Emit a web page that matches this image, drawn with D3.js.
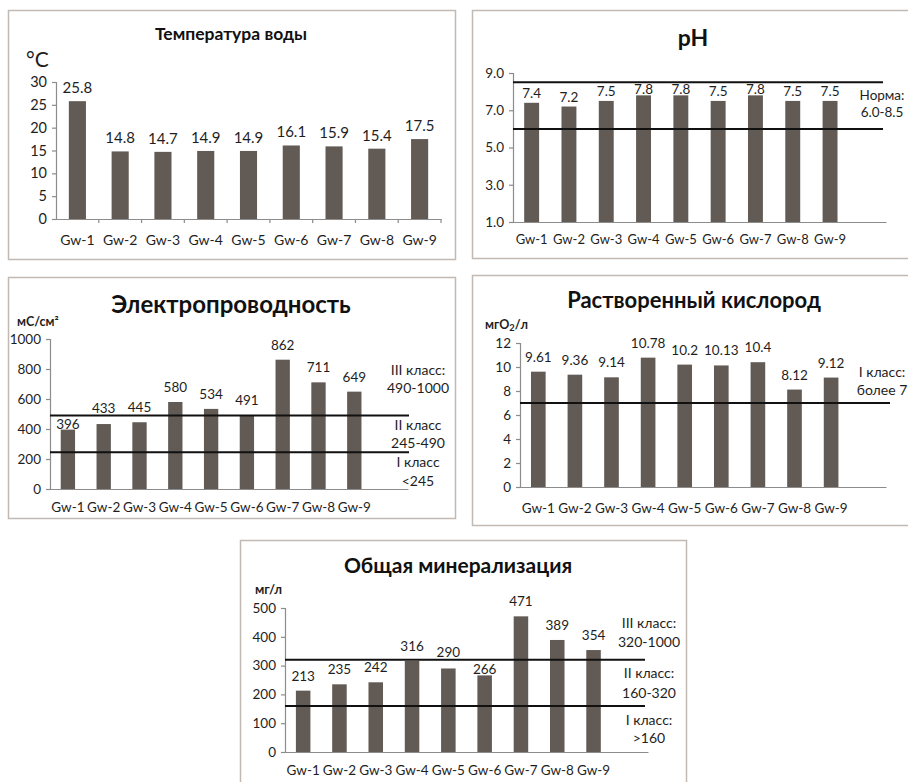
<!DOCTYPE html>
<html>
<head>
<meta charset="utf-8">
<script src="https://cdn.jsdelivr.net/npm/d3@7"></script>
<style>
  body { margin: 0; background: #fff; }
  svg { display: block; }
  text { font-family: Lato, "Open Sans", sans-serif; fill: #1e1e1e; }
</style>
</head>
<body>
<svg id="chart" width="908" height="782"></svg>
<script>
// Monitoring wells
const categories = ["Gw-1", "Gw-2", "Gw-3", "Gw-4", "Gw-5", "Gw-6", "Gw-7", "Gw-8", "Gw-9"];

// Measured values per well
const temperature  = [25.8, 14.8, 14.7, 14.9, 14.9, 16.1, 15.9, 15.4, 17.5];
const ph           = [7.4, 7.2, 7.5, 7.8, 7.8, 7.5, 7.8, 7.5, 7.5];
const conductivity = [396, 433, 445, 580, 534, 491, 862, 711, 649];
const oxygen       = [9.61, 9.36, 9.14, 10.78, 10.2, 10.13, 10.4, 8.12, 9.12];
const mineral      = [213, 235, 242, 316, 290, 266, 471, 389, 354];

// Axis ticks
const temperatureTicks  = [0, 5, 10, 15, 20, 25, 30];
const phTicks           = [1, 3, 5, 7, 9];
const conductivityTicks = [0, 200, 400, 600, 800, 1000];
const oxygenTicks       = [0, 2, 4, 6, 8, 10, 12];
const mineralTicks      = [0, 100, 200, 300, 400, 500];

// Norm / class boundaries
const phLimits           = [8.5, 6.0];
const conductivityLimits = [490, 245];
const oxygenLimits       = [7];
const mineralLimits      = [320, 160];

// Boundary notes
const phNotes           = ["Норма:", "6.0-8.5"];
const conductivityNotes = ["III класс:", "490-1000", "II класс", "245-490", "I класс", "<245"];
const oxygenNotes       = ["I класс:", "более 7"];
const mineralNotes      = ["III класс:", "320-1000", "II класс:", "160-320", "I класс:", ">160"];

const BAR = "#615a55";
const AXIS = "#8c8c8c";
const FRAME = "#c2bab2";

const svg = d3.select("#chart");

function drawPanel(c) {
  const g = svg.append("g");

  g.append("rect")
    .attr("x", c.frame[0] + 0.5).attr("y", c.frame[1] + 0.5)
    .attr("width", c.frame[2] - c.frame[0]).attr("height", c.frame[3] - c.frame[1])
    .attr("fill", "none").attr("stroke", FRAME).attr("stroke-width", 1.5);

  g.append("text")
    .attr("x", c.title.x).attr("y", c.title.y)
    .attr("text-anchor", "middle")
    .style("font-size", c.title.size + "px").style("font-weight", "bold")
    .style("fill", "#111")
    .text(c.title.text);

  if (c.unit) {
    const u = g.append("text")
      .attr("x", c.unit.x).attr("y", c.unit.y)
      .style("font-size", c.unit.size + "px")
      .style("font-weight", c.unit.bold ? "bold" : "normal");
    c.unit.parts.forEach(p => {
      const t = u.append("tspan").text(p.t);
      if (p.sub) t.attr("baseline-shift", "-25%").style("font-size", (c.unit.size * 0.75) + "px");
    });
  }

  // one extra empty slot on the right where the plot area leaves room for notes
  const slots = categories.concat(c.extraSlot ? ["_"] : []);
  const x = d3.scaleBand().domain(slots).range([c.x0, c.x1]).paddingInner(0.6).paddingOuter(0.3);
  const y = d3.scaleLinear().domain(c.domain).range([c.yBottom, c.yTop]);

  // bars
  g.selectAll("rect.bar").data(c.values).join("rect")
    .attr("class", "bar")
    .attr("x", (d, i) => x(categories[i]))
    .attr("width", x.bandwidth())
    .attr("y", d => y(d))
    .attr("height", d => y(c.domain[0]) - y(d))
    .attr("fill", BAR);

  // y axis
  const ya = g.append("g")
    .attr("transform", `translate(${c.x0},0)`)
    .call(d3.axisLeft(y).tickValues(c.ticks).tickSize(4).tickPadding(5).tickFormat(c.tickFormat || d3.format("d")));
  ya.select(".domain").attr("stroke", AXIS).attr("stroke-width", 1.2);
  ya.selectAll(".tick line").attr("stroke", AXIS).attr("stroke-width", 1.2);
  ya.selectAll(".tick text").style("font-size", c.tickSize + "px").style("font-family", "Lato, sans-serif").attr("fill", "#1e1e1e");

  // x axis
  const xa = g.append("g")
    .attr("transform", `translate(0,${c.yBottom})`)
    .call(d3.axisBottom(x).tickSize(0).tickPadding(c.labelPad).tickFormat(d => d === "_" ? "" : d));
  xa.select(".domain").attr("stroke", AXIS).attr("stroke-width", 1.2);
  xa.selectAll(".tick text").style("font-size", c.catSize + "px").style("font-family", "Lato, sans-serif").attr("fill", "#1e1e1e");

  if (c.boundaryTicks) {
    const bounds = d3.range(slots.length + 1).map(i => c.x0 + i * x.step());
    g.selectAll("line.bt").data(bounds.slice(1)).join("line")
      .attr("x1", d => d).attr("x2", d => d)
      .attr("y1", c.yBottom).attr("y2", c.yBottom + 4)
      .attr("stroke", AXIS).attr("stroke-width", 1.2);
  }

  // limit lines
  const limits = c.limits || [];
  g.selectAll("line.limit").data(limits).join("line")
    .attr("x1", c.x0).attr("x2", c.lineEnd)
    .attr("y1", d => y(d)).attr("y2", d => y(d))
    .attr("stroke", "#111").attr("stroke-width", 2);

  // value labels, nudged off a limit line when they would sit on it
  const cap = c.valueSize * 0.72;
  const lineYs = limits.map(v => y(v));
  const labelBase = v => {
    const top = y(v);
    let b = top - c.valueGap;
    const hit = yy => lineYs.some(L => L >= yy - cap - 1 && L <= yy + 2);
    if (hit(b)) {
      const b2 = top - 1;
      if (!hit(b2)) b = b2;
      else b = Math.min(...lineYs.filter(L => L <= b + 2)) - 3;
    }
    return b;
  };
  g.selectAll("text.val").data(c.values).join("text")
    .attr("class", "val")
    .attr("x", (d, i) => x(categories[i]) + x.bandwidth() / 2)
    .attr("y", d => labelBase(d))
    .attr("text-anchor", "middle")
    .style("font-size", c.valueSize + "px")
    .text(d => c.valueFormat ? c.valueFormat(d) : String(d));

  // notes beside the limit lines
  if (c.notes) {
    g.selectAll("text.note").data(c.notes.text).join("text")
      .attr("class", "note")
      .attr("x", c.notes.x)
      .attr("y", (d, i) => c.notes.y[i])
      .attr("text-anchor", "middle")
      .style("font-size", c.notes.size + "px")
      .text(d => d);
  }
}

drawPanel({
  frame: [8, 10, 455, 259],
  title: { text: "Температура воды", x: 231, y: 40, size: 17.5 },
  unit: { x: 26, y: 67, size: 21, parts: [{ t: "°C" }] },
  x0: 56, x1: 441, yTop: 82, yBottom: 219, domain: [0, 30],
  values: temperature, ticks: temperatureTicks,
  tickSize: 14.5, catSize: 14, valueSize: 15, valueGap: 8, labelPad: 16,
  boundaryTicks: true
});

drawPanel({
  frame: [472, 10, 930, 258],
  title: { text: "pH", x: 693, y: 46, size: 23 },
  x0: 513, x1: 886, yTop: 73, yBottom: 222, domain: [1, 9],
  values: ph, ticks: phTicks, tickFormat: d3.format(".1f"), valueFormat: d3.format(".1f"),
  tickSize: 13.5, catSize: 13, valueSize: 13.5, valueGap: 5, labelPad: 13,
  extraSlot: true, limits: phLimits, lineEnd: 883,
  notes: { text: phNotes, x: 882, y: [100, 117], size: 13.5 }
});

drawPanel({
  frame: [8, 277, 455, 518],
  title: { text: "Электропроводность", x: 231, y: 313, size: 24 },
  unit: { x: 17, y: 326, size: 12.5, bold: true, parts: [{ t: "мС/см²" }] },
  x0: 50, x1: 408, yTop: 339, yBottom: 489, domain: [0, 1000],
  values: conductivity, ticks: conductivityTicks,
  tickSize: 13.5, catSize: 13.5, valueSize: 13.5, valueGap: 10, labelPad: 13,
  extraSlot: true, limits: conductivityLimits, lineEnd: 409,
  notes: { text: conductivityNotes, x: 418, y: [375, 393, 430, 448, 467, 486], size: 14 }
});

drawPanel({
  frame: [472, 275, 930, 525],
  title: { text: "Растворенный кислород", x: 694, y: 308, size: 22 },
  unit: { x: 485, y: 329, size: 12.5, bold: true, parts: [{ t: "мгO" }, { t: "2", sub: true }, { t: "/л" }] },
  x0: 520, x1: 886, yTop: 343, yBottom: 487, domain: [0, 12],
  values: oxygen, ticks: oxygenTicks,
  tickSize: 13.5, catSize: 13.5, valueSize: 13.5, valueGap: 10, labelPad: 16,
  extraSlot: true, limits: oxygenLimits, lineEnd: 890,
  notes: { text: oxygenNotes, x: 882, y: [377, 395], size: 14 }
});

drawPanel({
  frame: [240, 540, 686, 800],
  title: { text: "Общая минерализация", x: 458, y: 573, size: 21 },
  unit: { x: 255, y: 594, size: 13, bold: true, parts: [{ t: "мг/л" }] },
  x0: 285, x1: 648, yTop: 608, yBottom: 752, domain: [0, 500],
  values: mineral, ticks: mineralTicks,
  tickSize: 13.5, catSize: 13.5, valueSize: 13.5, valueGap: 10, labelPad: 13,
  extraSlot: true, limits: mineralLimits, lineEnd: 645,
  notes: { text: mineralNotes, x: 649, y: [628, 647, 678, 698, 725, 743], size: 14 }
});
</script>
</body>
</html>
